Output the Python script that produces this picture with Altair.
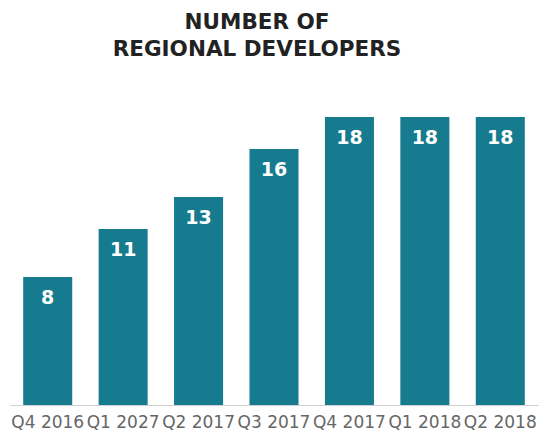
import altair as alt
import pandas as pd

quarters = ["Q4 2016", "Q1 2027", "Q2 2017", "Q3 2017", "Q4 2017", "Q1 2018", "Q2 2018"]
developers = [8, 11, 13, 16, 18, 18, 18]

df = pd.DataFrame({"quarter": quarters, "developers": developers})

teal = "#167b8f"

base = alt.Chart(df).encode(
    x=alt.X("quarter:N", sort=quarters,
            scale=alt.Scale(paddingInner=0.35, paddingOuter=0.175),
            axis=alt.Axis(title=None, labelAngle=0, ticks=False, domainColor="#d0d0d0",
                          labelColor="#666666", labelFont="DejaVu Sans", labelFontSize=17,
                          labelPadding=9, labelFlush=False, labelOverlap=False)),
    y=alt.Y("developers:Q", scale=alt.Scale(domain=[0, 18], nice=False),
            axis=None),
)

bars = base.mark_bar(color=teal)
labels = base.mark_text(color="white", font="DejaVu Sans", fontWeight="bold", fontSize=19,
                        baseline="top", dy=12).encode(text="developers:Q")

chart = (bars + labels).properties(
    width=528, height=288,
    title=alt.TitleParams(["NUMBER OF", "REGIONAL DEVELOPERS"], font="DejaVu Sans",
                          fontSize=21.5, fontWeight="bold", color="#222222",
                          lineHeight=27, offset=57, anchor="middle", dx=-17),
    autosize=alt.AutoSizeParams(type="none"),
    padding={"left": 10, "top": 117, "right": 1, "bottom": 35},
).configure_view(stroke=None).configure_axis(grid=False)

chart.save("out.html", embed_options={"renderer": "svg", "actions": False})
